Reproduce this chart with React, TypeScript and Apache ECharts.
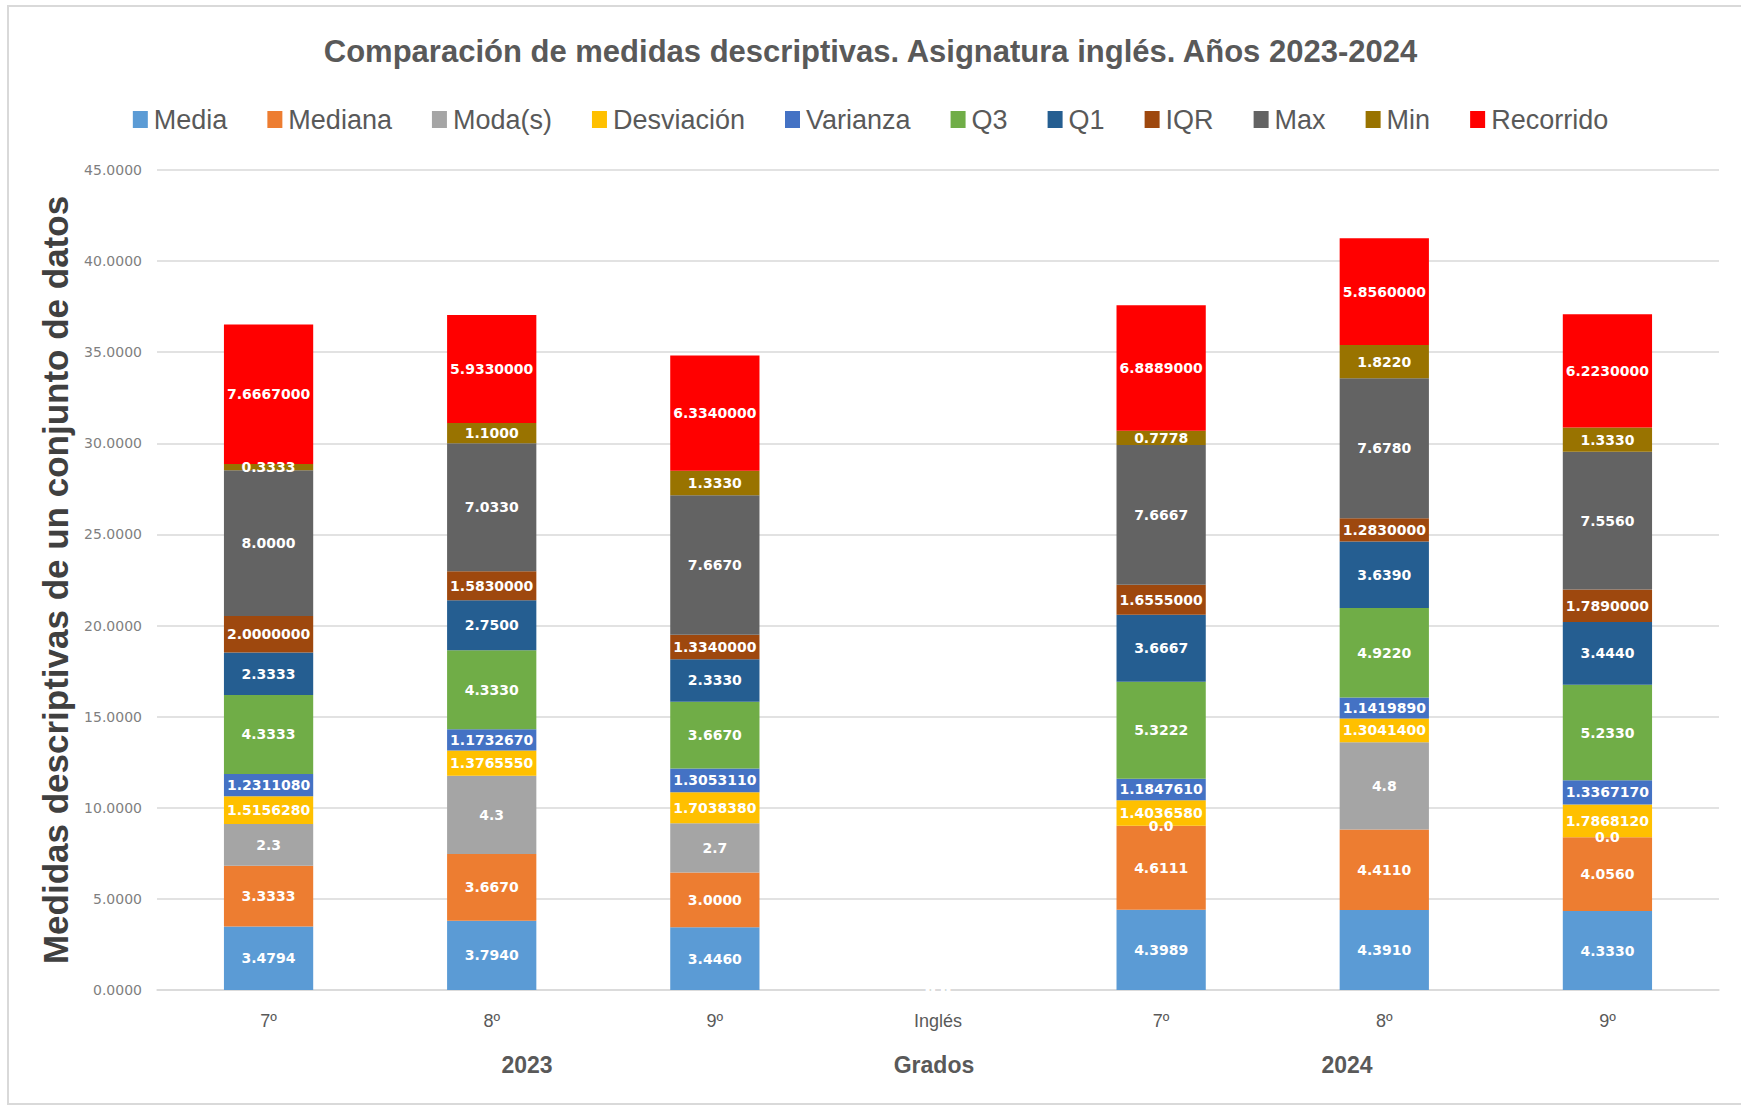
import React, { useEffect, useRef } from "react";
import * as echarts from "echarts";

const categories = ["7º", "8º", "9º", "Inglés", "7º", "8º", "9º"];
const groupLabels = ["2023", "Grados", "2024"];
const yTicks = { min: 0, max: 45, interval: 5 };

const media = [3.4794, 3.794, 3.446, 0, 4.3989, 4.391, 4.333];
const mediana = [3.3333, 3.667, 3.0, 0, 4.6111, 4.411, 4.056];
const moda = [2.3, 4.3, 2.7, 0, 0, 4.8, 0];
const desviacion = [1.515628, 1.376555, 1.703838, 0, 1.403658, 1.30414, 1.786812];
const varianza = [1.231108, 1.173267, 1.305311, 0, 1.184761, 1.141989, 1.336717];
const q3 = [4.3333, 4.333, 3.667, 0, 5.3222, 4.922, 5.233];
const q1 = [2.3333, 2.75, 2.333, 0, 3.6667, 3.639, 3.444];
const iqr = [2.0, 1.583, 1.334, 0, 1.6555, 1.283, 1.789];
const maxV = [8.0, 7.033, 7.667, 0, 7.6667, 7.678, 7.556];
const minV = [0.3333, 1.1, 1.333, 0, 0.7778, 1.822, 1.333];
const recorrido = [7.6667, 5.933, 6.334, 0, 6.8889, 5.856, 6.223];

const seriesDefs = [
  { name: "Media", data: media, color: "#5B9BD5", dec: 4 },
  { name: "Mediana", data: mediana, color: "#ED7D31", dec: 4 },
  { name: "Moda(s)", data: moda, color: "#A5A5A5", dec: 1 },
  { name: "Desviación", data: desviacion, color: "#FFC000", dec: 7 },
  { name: "Varianza", data: varianza, color: "#4472C4", dec: 7 },
  { name: "Q3", data: q3, color: "#70AD47", dec: 4 },
  { name: "Q1", data: q1, color: "#255E91", dec: 4 },
  { name: "IQR", data: iqr, color: "#9E480E", dec: 7 },
  { name: "Max", data: maxV, color: "#636363", dec: 4 },
  { name: "Min", data: minV, color: "#997300", dec: 4 },
  { name: "Recorrido", data: recorrido, color: "#FF0000", dec: 7 },
];

const FONT = "'Liberation Sans', Arial, sans-serif";
const WIDE = "'DejaVu Sans', Verdana, sans-serif";

export default function App() {
  const ref = useRef<HTMLDivElement>(null);
  useEffect(() => {
    document.body.style.margin = "0";
    const chart = echarts.init(ref.current!, null, { renderer: "svg" });
    const option: any = {
      animation: false,
      backgroundColor: "#ffffff",
      textStyle: { fontFamily: FONT },
      title: {
        text: "Comparación de medidas descriptivas. Asignatura inglés. Años 2023-2024",
        left: "center",
        top: 31,
        textStyle: { fontSize: 31, fontWeight: "bold", color: "#595959", fontFamily: FONT },
      },
      legend: {
        top: 101,
        left: "center",
        itemWidth: 15,
        itemHeight: 17,
        itemGap: 40,
        icon: "rect",
        textStyle: { fontSize: 27, color: "#595959", fontFamily: FONT, padding: [0, 0, 0, 1] },
        data: seriesDefs.map((s) => s.name),
      },
      grid: { left: 157, right: 22, top: 170, bottom: 117, containLabel: false },
      xAxis: {
        type: "category",
        data: categories,
        axisLine: { lineStyle: { color: "#d9d9d9", width: 1.5 } },
        axisTick: { show: false },
        axisLabel: { color: "#595959", fontSize: 18, margin: 22, fontFamily: FONT },
      },
      yAxis: {
        type: "value",
        min: yTicks.min,
        max: yTicks.max,
        interval: yTicks.interval,
        name: "Medidas descriptivas de un conjunto de datos",
        nameLocation: "middle",
        nameRotate: 90,
        nameGap: 84,
        nameTextStyle: { fontSize: 35, fontWeight: "bold", color: "#404040", fontFamily: FONT },
        axisLine: { show: false },
        axisTick: { show: false },
        splitLine: { lineStyle: { color: "#d9d9d9", width: 1.5 } },
        axisLabel: {
          color: "#7f7f7f",
          fontSize: 14,
          margin: 15,
          fontFamily: WIDE,
          formatter: (v: number) => v.toFixed(4),
        },
      },
      series: seriesDefs.map((s) => ({
        name: s.name,
        type: "bar",
        stack: "total",
        barWidth: "40%",
        data: s.data,
        itemStyle: { color: s.color },
        label: {
          show: true,
          position: "inside",
          color: "#ffffff",
          fontWeight: "bold",
          fontSize: 14,
          fontFamily: WIDE,
          formatter: (p: any) => (p.value === 0 ? "0.0" : Number(p.value).toFixed(s.dec)),
        },
      })),
      graphic: [
        {
          type: "rect",
          shape: { x: 8, y: 6, width: 1745, height: 1098 },
          style: { fill: "none", stroke: "#d9d9d9", lineWidth: 2 },
          silent: true,
        },
        ...groupLabels.map((t, i) => ({
          type: "text",
          x: [527, 934, 1347][i],
          y: 1065,
          style: {
            text: t,
            fontSize: 23,
            fontWeight: "bold",
            fill: "#595959",
            fontFamily: FONT,
            align: "center",
            verticalAlign: "middle",
          },
        })),
      ],
    };
    chart.setOption(option);
    return () => chart.dispose();
  }, []);
  return <div ref={ref} style={{ width: 1741, height: 1107 }} />;
}
